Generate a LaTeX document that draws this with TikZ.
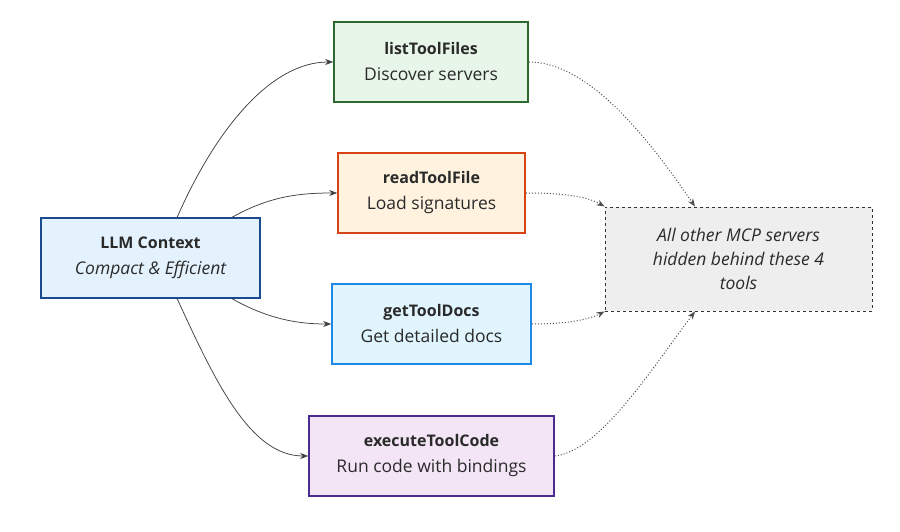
\documentclass[tikz,border=0pt]{standalone}
\usepackage{fontspec}
\setmainfont{Open Sans}
\usetikzlibrary{arrows.meta}
\definecolor{llmB}{HTML}{1A4A8F}\definecolor{llmF}{HTML}{E3F2FD}
\definecolor{lstB}{HTML}{2E6930}\definecolor{lstF}{HTML}{E8F5E9}
\definecolor{rdB}{HTML}{D84315}\definecolor{rdF}{HTML}{FFF3E0}
\definecolor{docB}{HTML}{1E88E5}\definecolor{docF}{HTML}{E1F5FE}
\definecolor{exB}{HTML}{4A2C8F}\definecolor{exF}{HTML}{F3E5F5}
\definecolor{hidF}{HTML}{EEEEEE}
\definecolor{txt}{HTML}{2A2A2A}
\newcommand{\ttl}[1]{{\fontsize{16}{26}\selectfont\bfseries #1}}
\newcommand{\sub}[1]{{\fontsize{17.5}{26}\selectfont #1}}
\tikzset{
  box/.style={draw, line width=1.6pt, minimum height=80pt, inner sep=0pt, align=center,
    text=txt, font=\fontsize{17}{26}\selectfont},
  solidarr/.style={draw=black!75, line width=0.75pt, -{Stealth[length=8pt,width=6pt]}},
  dotarr/.style={draw=black!70, line width=1pt, dotted, -{Stealth[length=8pt,width=6pt]}},
}
\begin{document}
\begin{tikzpicture}[x=1pt,y=1pt]
\useasboundingbox (0,0) rectangle (900,531);
\node[box, draw=llmB, fill=llmF, minimum width=219pt] (llm) at (150.5,273) {\ttl{LLM Context}\\\sub{\itshape Compact \& Efficient}};
\node[box, draw=lstB, fill=lstF, minimum width=194pt] (list) at (431,469) {\ttl{listToolFiles}\\\sub{Discover servers}};
\node[box, draw=rdB, fill=rdF, minimum width=187pt] (read) at (431.5,338) {\ttl{readToolFile}\\\sub{Load signatures}};
\node[box, draw=docB, fill=docF, minimum width=199pt] (docs) at (431.5,207) {\ttl{getToolDocs}\\\sub{Get detailed docs}};
\node[box, draw=exB, fill=exF, minimum width=245pt] (exec) at (431.5,75) {\ttl{executeToolCode}\\\sub{Run code with bindings}};
\node[draw=black!80, dashed, line width=0.9pt, fill=hidF, minimum width=267pt, minimum height=104pt, align=center, text=txt, inner sep=0pt,
  font=\fontsize{17.5}{24}\selectfont\itshape] (hid) at (738.5,272) {All other MCP servers\\hidden behind these 4\\tools};
\coordinate (hidTop) at ([xshift=-43.5pt]hid.north);
\coordinate (hidBot) at ([xshift=-43.5pt]hid.south);
% solid connectors
\draw[solidarr] ([xshift=137pt]llm.north west) .. controls (215,400) and (270,469) .. (list.west);
\draw[solidarr] ([xshift=192pt]llm.north west) .. controls (270,335) and (300,338) .. (read.west);
\draw[solidarr] ([xshift=192pt]llm.south west) .. controls (270,211) and (300,207) .. (docs.west);
\draw[solidarr] ([xshift=137pt]llm.south west) .. controls (215,150) and (250,75) .. (exec.west);
% dotted connectors
\draw[dotarr] (list.east) .. controls (590,469) and (650,390) .. (hidTop);
\draw[dotarr] (read.east) .. controls (570,338) and (590,333) .. (hid.north west);
\draw[dotarr] (docs.east) .. controls (570,207) and (590,212) .. (hid.south west);
\draw[dotarr] (exec.east) .. controls (600,80) and (650,160) .. (hidBot);
\end{tikzpicture}
\end{document}
